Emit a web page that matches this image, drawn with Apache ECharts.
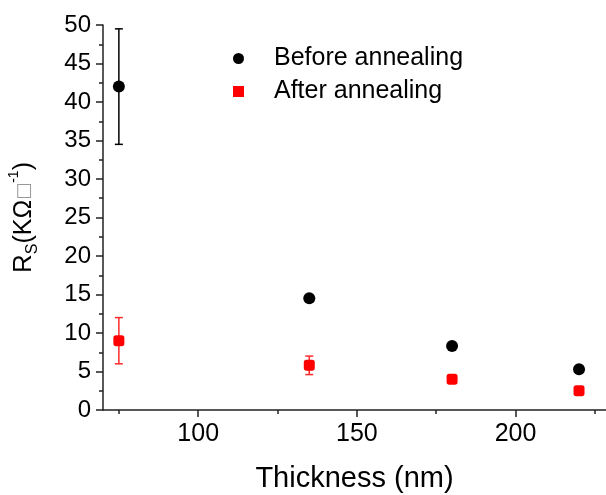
<!DOCTYPE html>
<html>
<head>
<meta charset="utf-8">
<script src="https://cdn.jsdelivr.net/npm/echarts@6/dist/echarts.min.js"></script>
<style>
  html, body { margin: 0; padding: 0; background: #fff; }
  #chart { width: 606px; height: 495px; }
</style>
</head>
<body>
<div id="chart"></div>
<script>
// thickness of the films (nm)
var thickness = [75, 135, 180, 220];
// sheet resistance before / after annealing (KOhm/sq)
var before = [42, 14.5, 8.3, 5.3];
var beforeErr = [7.5, 0.3, 0.3, 0.3];
var after = [9, 5.8, 4.0, 2.5];
var afterErr = [3, 1.2, 0.5, 0.5];
var xTicks = [100, 150, 200];
var xMinorTicks = [75, 125, 175, 225];

var font = 'Liberation Sans, Arial, sans-serif';

function pts(ys) {
  return thickness.map(function (x, i) { return [x, ys[i]]; });
}
function errs(ys, es) {
  return thickness.map(function (x, i) { return [x, ys[i] - es[i], ys[i] + es[i]]; });
}

// error bars: vertical line + two caps
function errorBar(color) {
  return function (params, api) {
    var x = api.value(0);
    var top = api.coord([x, api.value(2)]);
    var bot = api.coord([x, api.value(1)]);
    var w = 4;
    var st = { stroke: color, lineWidth: 1.5 };
    return {
      type: 'group',
      children: [
        { type: 'line', shape: { x1: top[0], y1: top[1], x2: bot[0], y2: bot[1] }, style: st },
        { type: 'line', shape: { x1: top[0] - w, y1: top[1], x2: top[0] + w, y2: top[1] }, style: st },
        { type: 'line', shape: { x1: bot[0] - w, y1: bot[1], x2: bot[0] + w, y2: bot[1] }, style: st }
      ]
    };
  };
}

var myChart = echarts.init(document.getElementById('chart'));
myChart.setOption({
  animation: false,
  grid: { left: 103, right: 0, top: 25, bottom: 85, containLabel: false, outerBoundsMode: 'none' },
  legend: {
    orient: 'vertical',
    left: 228,
    top: 41,
    itemWidth: 11,
    itemHeight: 11,
    itemGap: 8,
    textStyle: { fontFamily: font, fontSize: 25, color: '#000', lineHeight: 24, padding: [0, 0, 0, 25] },
    data: [
      { name: 'Before annealing', icon: 'circle' },
      { name: 'After annealing', icon: 'rect' }
    ]
  },
  xAxis: [{
    type: 'value',
    min: 70,
    max: 228.5,
    name: 'Thickness (nm)',
    nameLocation: 'middle',
    nameGap: 54,
    nameTextStyle: { fontFamily: font, fontSize: 29, color: '#000' },
    axisLine: { lineStyle: { color: '#222', width: 1.5 } },
    axisTick: { show: true, inside: false, length: 7, customValues: xTicks, lineStyle: { color: '#222', width: 1.5 } },
    axisLabel: { customValues: xTicks, margin: 12, fontFamily: font, fontSize: 25, color: '#000' },
    splitLine: { show: false }
  }, {
    type: 'value',
    min: 70,
    max: 228.5,
    position: 'bottom',
    axisLine: { show: false },
    axisTick: { show: true, inside: false, length: 4, customValues: xMinorTicks, lineStyle: { color: '#222', width: 1.5 } },
    axisLabel: { show: false },
    splitLine: { show: false }
  }],
  yAxis: {
    type: 'value',
    min: 0,
    max: 50,
    interval: 5,
    name: '{r|R}{sub|S}{t|(KΩ}{box|□}{sup|-1}{t|)}',
    nameLocation: 'middle',
    nameRotate: 90,
    nameGap: 62,
    nameTextStyle: {
      fontFamily: font, fontSize: 25, color: '#000',
      rich: {
        r: { fontFamily: font, fontSize: 26, color: '#000', lineHeight: 34, verticalAlign: 'middle' },
        t: { fontFamily: font, fontSize: 25, color: '#000', lineHeight: 34, verticalAlign: 'middle' },
        box: { fontFamily: 'DejaVu Sans', fontSize: 18, color: '#999', lineHeight: 34, verticalAlign: 'middle' },
        sub: { fontFamily: font, fontSize: 16, color: '#000', lineHeight: 34, verticalAlign: 'bottom' },
        sup: { fontFamily: font, fontSize: 14, color: '#000', lineHeight: 34, verticalAlign: 'top' }
      }
    },
    axisLine: { show: true, lineStyle: { color: '#222', width: 1.5 } },
    axisTick: { show: true, inside: false, length: 7, lineStyle: { color: '#222', width: 1.5 } },
    minorTick: { show: true, splitNumber: 2, length: 4, lineStyle: { color: '#222', width: 1.5 } },
    axisLabel: { margin: 12, fontFamily: font, fontSize: 24, color: '#000' },
    splitLine: { show: false },
    minorSplitLine: { show: false }
  },
  series: [
    {
      type: 'custom',
      name: 'beforeErr',
      renderItem: errorBar('#000'),
      encode: { x: 0, y: [1, 2] },
      data: errs(before, beforeErr),
      z: 1
    },
    {
      type: 'custom',
      name: 'afterErr',
      renderItem: errorBar('#ff2a2a'),
      encode: { x: 0, y: [1, 2] },
      data: errs(after, afterErr),
      z: 1
    },
    {
      name: 'Before annealing',
      type: 'scatter',
      symbol: 'circle',
      symbolSize: 12,
      itemStyle: { color: '#000', opacity: 1 },
      data: pts(before),
      z: 3
    },
    {
      name: 'After annealing',
      type: 'scatter',
      symbol: 'roundRect',
      symbolSize: 11,
      itemStyle: { color: '#ff0000', opacity: 1 },
      data: pts(after),
      z: 3
    }
  ]
});
</script>
</body>
</html>
